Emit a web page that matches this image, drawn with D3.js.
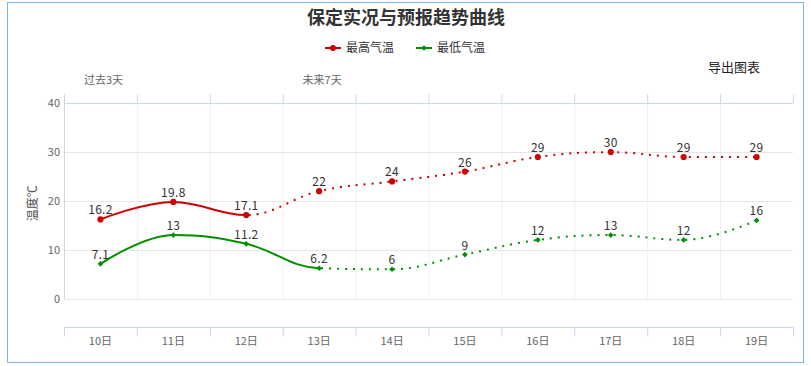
<!DOCTYPE html>
<html>
<head>
<meta charset="utf-8">
<script src="https://cdn.jsdelivr.net/npm/d3@7"></script>
<style>
  body { margin: 0; background: #fff; }
  svg text { font-family: "Noto Sans CJK SC", "Noto Sans", sans-serif; }
</style>
</head>
<body>
<div id="chart"></div>
<script>
const days = ['10日', '11日', '12日', '13日', '14日', '15日', '16日', '17日', '18日', '19日']
const topLabels = ['过去3天', '', '', '未来7天', '', '', '', '', '', '']
const maxTemp = [16.2, 19.8, 17.1, 22, 24, 26, 29, 30, 29, 29]
const minTemp = [7.1, 13, 11.2, 6.2, 6, 9, 12, 13, 12, 16]
const yTicks = [0, 10, 20, 30, 40]

const series = [
  { name: '最高气温', values: maxTemp, color: '#cc0000', solidUntil: 2, symbol: 'circle' },
  { name: '最低气温', values: minTemp, color: '#009000', solidUntil: 3, symbol: 'diamond' }
]

const dimensions = {
  width: 811,
  height: 366,
  plot: { left: 64, right: 793, top: 103.3, zero: 298.5, bottom: 326.7 }
}

// highcharts-like spline
function HcSpline (context) { this._context = context }
HcSpline.prototype = {
  areaStart () {},
  areaEnd () {},
  lineStart () { this._pts = [] },
  point (x, y) { this._pts.push([+x, +y]) },
  lineEnd () {
    const p = this._pts
    const c = this._context
    if (!p.length) return
    c.moveTo(p[0][0], p[0][1])
    let prevRight = p[0]
    for (let i = 1; i < p.length; i++) {
      const [x, y] = p[i]
      let left = [x, y]
      let right = [x, y]
      if (i < p.length - 1) {
        const [lx, ly] = p[i - 1]
        const [nx, ny] = p[i + 1]
        const lcx = (1.5 * x + lx) / 2.5
        let lcy = (1.5 * y + ly) / 2.5
        const rcx = (1.5 * x + nx) / 2.5
        let rcy = (1.5 * y + ny) / 2.5
        if (rcx !== lcx) {
          const corr = ((rcy - lcy) * (rcx - x)) / (rcx - lcx) + y - rcy
          lcy += corr
          rcy += corr
          if (lcy > ly && lcy > y) { lcy = Math.max(ly, y); rcy = 2 * y - lcy }
          else if (lcy < ly && lcy < y) { lcy = Math.min(ly, y); rcy = 2 * y - lcy }
          if (rcy > ny && rcy > y) { rcy = Math.max(ny, y); lcy = 2 * y - rcy }
          else if (rcy < ny && rcy < y) { rcy = Math.min(ny, y); lcy = 2 * y - rcy }
        }
        left = [lcx, lcy]
        right = [rcx, rcy]
      }
      c.bezierCurveTo(prevRight[0], prevRight[1], left[0], left[1], x, y)
      prevRight = right
    }
  }
}
const curveHcSpline = context => new HcSpline(context)

// square diamond (rotated square), like the highcharts one
const squareDiamond = {
  draw (context, size) {
    const r = Math.sqrt(size / 2)
    context.moveTo(0, -r)
    context.lineTo(r, 0)
    context.lineTo(0, r)
    context.lineTo(-r, 0)
    context.closePath()
  }
}
const markerSymbol = (s, legend) => s.symbol === 'circle'
  ? d3.symbol(d3.symbolCircle, legend ? 28 : 30)
  : d3.symbol(squareDiamond, legend ? 14 : 16)

const svg = d3.select('#chart').append('svg')
  .attr('width', dimensions.width)
  .attr('height', dimensions.height)

const P = dimensions.plot

const xBand = d3.scaleBand().domain(days).range([P.left, P.right]).padding(0)
const xScale = d => xBand(d) + xBand.bandwidth() / 2
const yScale = d3.scaleLinear().domain([0, 40]).range([P.zero, P.top])

// outer frame
svg.append('rect')
  .attr('x', 7.5).attr('y', 2.5)
  .attr('width', 796).attr('height', 360)
  .attr('fill', '#fff')
  .attr('stroke', '#7cb5ec')
  .attr('stroke-width', 1)

// title
svg.append('text')
  .attr('x', 406).attr('y', 24)
  .attr('text-anchor', 'middle')
  .attr('font-size', 18).attr('font-weight', 'bold')
  .attr('fill', '#333')
  .text('保定实况与预报趋势曲线')

// legend
const legend = svg.append('g')
series.forEach((s, i) => {
  const g = legend.append('g').attr('transform', `translate(${325 + i * 91}, 48)`)
  g.append('line').attr('x1', 0).attr('x2', 16).attr('y1', 0).attr('y2', 0)
    .attr('stroke', s.color).attr('stroke-width', 2)
  g.append('path')
    .attr('transform', 'translate(8,0)')
    .attr('d', markerSymbol(s, true)())
    .attr('fill', s.color)
  g.append('text').attr('x', 21).attr('y', 4)
    .attr('font-size', 12).attr('fill', '#333')
    .text(s.name)
})

svg.append('text')
  .attr('x', 708).attr('y', 72)
  .attr('font-size', 13).attr('fill', '#222')
  .text('导出图表')

// grid
const bounds = xBand.domain().map(d => xBand(d)).concat([P.right])
svg.append('g').selectAll('line')
  .data(bounds.slice(1, -1))
  .join('line')
  .attr('x1', d => d + 0.5).attr('x2', d => d + 0.5)
  .attr('y1', P.top).attr('y2', P.zero)
  .attr('stroke', '#efefef')
svg.append('g').selectAll('line')
  .data(yTicks)
  .join('line')
  .attr('x1', P.left).attr('x2', P.right)
  .attr('y1', d => Math.round(yScale(d)) + 0.5).attr('y2', d => Math.round(yScale(d)) + 0.5)
  .attr('stroke', '#e6e6e6')

// y axis line + labels
svg.append('line')
  .attr('x1', P.left + 0.5).attr('x2', P.left + 0.5)
  .attr('y1', P.top).attr('y2', P.zero)
  .attr('stroke', '#ccd6eb')
svg.append('g').selectAll('text')
  .data(yTicks)
  .join('text')
  .attr('x', 60).attr('y', d => yScale(d) + 4)
  .attr('text-anchor', 'end')
  .attr('font-size', 11).attr('fill', '#666')
  .text(d => d)
svg.append('text')
  .attr('transform', `translate(37, ${yScale(19.5)}) rotate(-90)`)
  .attr('text-anchor', 'middle')
  .attr('font-size', 12).attr('fill', '#555')
  .text('温度℃')

// top axis
const topY = Math.round(P.top) + 0.5
svg.append('line')
  .attr('x1', P.left).attr('x2', P.right).attr('y1', topY).attr('y2', topY)
  .attr('stroke', '#ccd6eb')
svg.append('g').selectAll('line')
  .data(bounds)
  .join('line')
  .attr('x1', d => d + 0.5).attr('x2', d => d + 0.5)
  .attr('y1', topY - 9).attr('y2', topY)
  .attr('stroke', '#ccd6eb')
svg.append('g').selectAll('text')
  .data(days)
  .join('text')
  .attr('x', d => xScale(d) + 3).attr('y', 84)
  .attr('text-anchor', 'middle')
  .attr('font-size', 11).attr('fill', '#666')
  .text((d, i) => topLabels[i])

// bottom axis
const botY = Math.round(P.bottom) + 0.5
svg.append('line')
  .attr('x1', P.left).attr('x2', P.right).attr('y1', botY).attr('y2', botY)
  .attr('stroke', '#ccd6eb')
svg.append('g').selectAll('line')
  .data(bounds)
  .join('line')
  .attr('x1', d => d + 0.5).attr('x2', d => d + 0.5)
  .attr('y1', botY).attr('y2', botY + 9)
  .attr('stroke', '#ccd6eb')
svg.append('g').selectAll('text')
  .data(days)
  .join('text')
  .attr('x', d => xScale(d)).attr('y', 345)
  .attr('text-anchor', 'middle')
  .attr('font-size', 11).attr('fill', '#666')
  .text(d => d)

// series
const line = d3.line()
  .x((d, i) => xScale(days[i]))
  .y(d => yScale(d))
  .curve(curveHcSpline)

const defs = svg.append('defs')
series.forEach((s, k) => {
  const split = xScale(days[s.solidUntil])
  defs.append('clipPath').attr('id', `solid${k}`)
    .append('rect').attr('x', 0).attr('y', 0).attr('width', split).attr('height', dimensions.height)
  defs.append('clipPath').attr('id', `dot${k}`)
    .append('rect').attr('x', split).attr('y', 0).attr('width', dimensions.width - split).attr('height', dimensions.height)

  const g = svg.append('g')
  g.append('path')
    .attr('d', line(s.values))
    .attr('fill', 'none')
    .attr('stroke', s.color)
    .attr('stroke-width', 2)
    .attr('clip-path', `url(#solid${k})`)
  g.append('path')
    .attr('d', line(s.values))
    .attr('fill', 'none')
    .attr('stroke', s.color)
    .attr('stroke-width', 2)
    .attr('stroke-dasharray', '2,6')
    .attr('clip-path', `url(#dot${k})`)

  const sym = markerSymbol(s, false)
  g.selectAll('.marker')
    .data(s.values)
    .join('path')
    .attr('class', 'marker')
    .attr('transform', (d, i) => `translate(${xScale(days[i])}, ${yScale(d)})`)
    .attr('d', sym())
    .attr('fill', s.color)

  g.selectAll('.label')
    .data(s.values)
    .join('text')
    .attr('class', 'label')
    .attr('x', (d, i) => xScale(days[i]))
    .attr('y', d => yScale(d) - 5)
    .attr('text-anchor', 'middle')
    .attr('font-size', 12).attr('fill', '#333')
    .attr('letter-spacing', 0.3)
    .text(d => d)
})
</script>
</body>
</html>
